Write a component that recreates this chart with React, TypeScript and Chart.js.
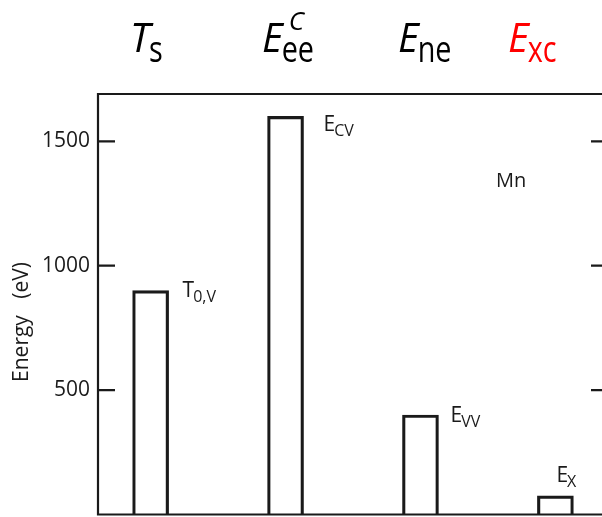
import React, { useEffect, useRef } from "react";
import { Chart, registerables } from "chart.js";

Chart.register(...registerables);

// ---- data ----
const categories = ["T0,V", "ECV", "EVV", "EX"];
const positions = [1, 2, 3, 4];
const energies = [900, 1600, 400, 75];
const yTicks = [500, 1000, 1500];
const yMin = 0;
const yMax = 1690;
const labelMain = ["T", "E", "E", "E"];
const labelSub = ["0,V", "CV", "VV", "X"];
const headMain = ["T", "E", "E", "E"];
const headSub = ["s", "ee", "ne", "xc"];
const headSup = ["", "C", "", ""];
const headColor = ["#000000", "#000000", "#000000", "#ff0000"];
const yTitle = "Energy   (eV)";
const elementName = "Mn";

// ---- layout / style (not data) ----
const INK = "#1a1a1a";
const FONT = "'Open Sans', 'Noto Sans', sans-serif";
const labelOffsets = [
  [32, 6],
  [38, 15],
  [30, 7],
  [1, -14],
];
const headX = [130, 262, 398, 508];
const headBase = 52;

const annotPlugin = {
  id: "annot",
  afterDraw(chart: any) {
    const { ctx, chartArea: a, scales } = chart;
    const xs = scales.x;
    const ys = scales.y;
    ctx.save();
    // frame
    ctx.strokeStyle = INK;
    ctx.lineWidth = 2.2;
    ctx.beginPath();
    ctx.moveTo(a.left, a.bottom);
    ctx.lineTo(a.left, a.top);
    ctx.lineTo(a.right, a.top);
    ctx.lineTo(a.right, a.bottom);
    ctx.closePath();
    ctx.stroke();
    // inward ticks
    for (const v of yTicks) {
      const y = ys.getPixelForValue(v);
      ctx.beginPath();
      ctx.moveTo(a.left, y);
      ctx.lineTo(a.left + 17, y);
      ctx.moveTo(a.right - 15, y);
      ctx.lineTo(a.right, y);
      ctx.stroke();
    }
    // bar labels
    ctx.fillStyle = INK;
    ctx.textAlign = "left";
    ctx.textBaseline = "alphabetic";
    for (let i = 0; i < energies.length; i++) {
      const cx = xs.getPixelForValue(positions[i]);
      const ty = ys.getPixelForValue(energies[i]);
      const x = cx + labelOffsets[i][0];
      const y = ty + labelOffsets[i][1];
      ctx.font = `21px ${FONT}`;
      ctx.fillText(labelMain[i], x, y);
      const w = ctx.measureText(labelMain[i]).width;
      ctx.font = `16px ${FONT}`;
      ctx.fillText(labelSub[i], x + w - 1, y + 5);
    }
    // element name
    ctx.font = `20px ${FONT}`;
    ctx.fillText(elementName, 496, 187);
    // y title
    ctx.save();
    ctx.translate(22, 322);
    ctx.rotate(-Math.PI / 2);
    ctx.textAlign = "center";
    ctx.textBaseline = "middle";
    ctx.font = `21px ${FONT}`;
    ctx.fillText(yTitle, 0, 0);
    ctx.restore();
    // headings
    for (let i = 0; i < headMain.length; i++) {
      ctx.fillStyle = headColor[i];
      ctx.font = `italic 40px ${FONT}`;
      const x = headX[i];
      ctx.fillText(headMain[i], x, headBase);
      const w = ctx.measureText(headMain[i]).width;
      ctx.save();
      ctx.translate(x + w - 1, headBase + 10);
      ctx.scale(0.8, 1);
      ctx.font = `36px ${FONT}`;
      ctx.fillText(headSub[i], 0, 0);
      ctx.restore();
      if (headSup[i]) {
        ctx.font = `italic 26px ${FONT}`;
        ctx.fillText(headSup[i], x + w + 6, headBase - 22);
      }
    }
    ctx.restore();
  },
};

export default function App() {
  const ref = useRef<HTMLCanvasElement | null>(null);
  useEffect(() => {
    if (!ref.current) return;
    const chart = new Chart(ref.current, {
      type: "bar",
      data: {
        labels: categories,
        datasets: [
          {
            data: energies.map((v, i) => ({ x: positions[i], y: v })),
            backgroundColor: "rgba(255,255,255,0)",
            borderColor: INK,
            borderWidth: 2.5,
            barThickness: 36,
          },
        ],
      },
      options: {
        responsive: false,
        animation: false,
        layout: { padding: { top: 94, bottom: 2.5, left: 0, right: 14 } },
        plugins: { legend: { display: false }, tooltip: { enabled: false } },
        scales: {
          x: {
            type: "linear",
            min: 0.61,
            max: 4.375,
            offset: false,
            display: false,
            grid: { offset: false },
          },
          y: {
            min: yMin,
            max: yMax,
            afterBuildTicks: (s: any) => {
              s.ticks = yTicks.map((v) => ({ value: v }));
            },
            afterFit: (s: any) => {
              s.width = 98;
              s.paddingTop = 0;
              s.paddingBottom = 0;
            },
            grid: { display: false, drawTicks: false },
            border: { display: false },
            ticks: {
              padding: 8,
              color: INK,
              font: { family: FONT, size: 21 },
              callback: (v: any) => String(v),
            },
          },
        },
      },
      plugins: [annotPlugin],
    });
    return () => chart.destroy();
  }, []);
  return (
    <div
      style={{
        position: "fixed",
        left: 0,
        top: 0,
        width: 602,
        height: 517,
        overflow: "hidden",
        background: "#fff",
      }}
    >
      <canvas ref={ref} width={620} height={517} style={{ display: "block" }} />
    </div>
  );
}
